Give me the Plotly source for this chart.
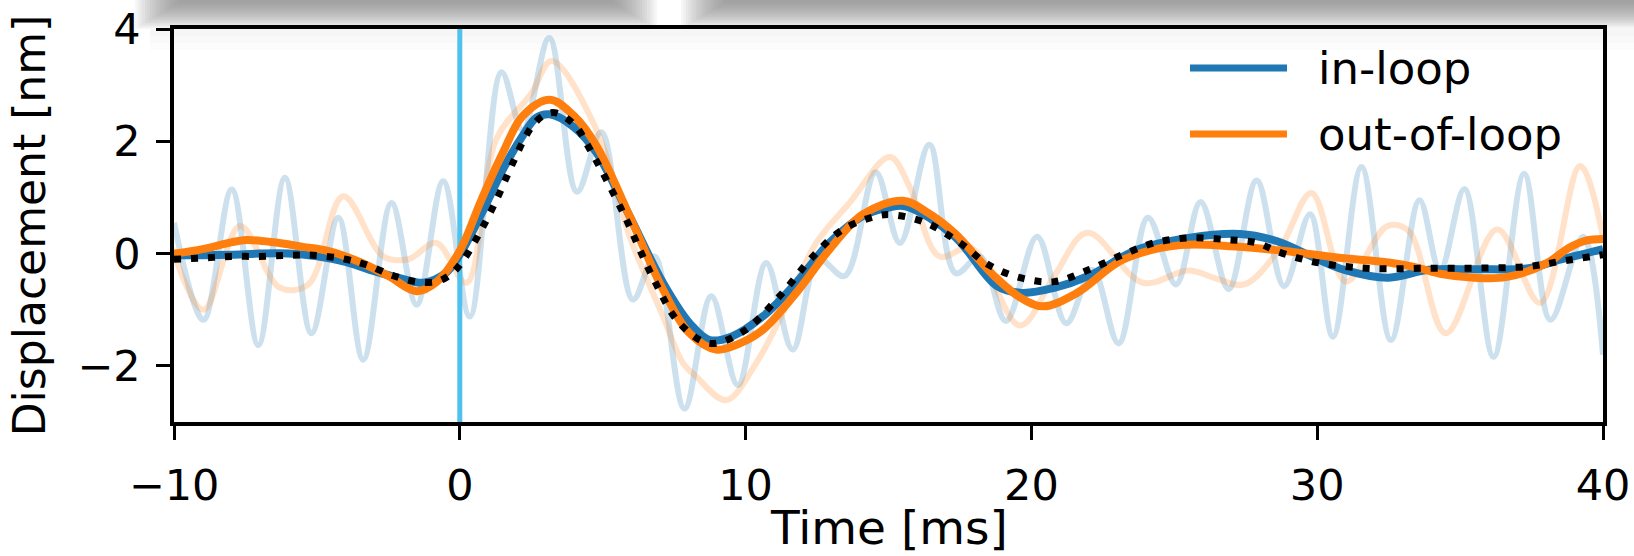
import plotly.graph_objects as go

# ---------------- data ----------------
# faint raw in-loop signal (peaks / troughs)
raw_in_t = [-10, -8.97, -7.98, -7.05, -6.12, -5.19, -4.25, -3.38, -2.39, -1.51, -0.58, 0.35,
            1.46, 2.2, 3.13, 4.1, 4.95, 6.06, 6.81, 7.86, 8.80, 9.73, 10.72, 11.65, 12.55,
            13.46, 14.55, 15.4, 16.43, 17.35, 18.2, 19.11, 20.2, 21.22, 22.14, 23.05, 24.08,
            25.06, 25.92, 26.9, 27.88, 28.84, 29.75, 30.55, 31.55, 32.58, 33.58, 34.3, 35.15,
            36.17, 37.24, 38.16, 39.3, 40]
raw_in_y = [0.55, -1.18, 1.14, -1.63, 1.35, -1.42, 0.64, -1.89, 0.90, -0.91, 1.29, -1.12,
            3.23, 2.2, 3.84, 1.1, 2.16, -0.82, -0.05, -2.76, -0.76, -2.34, -0.17, -1.71, -0.1,
            -0.4, 1.45, 0.19, 1.94, -0.35, -0.05, -1.2, 0.3, -1.24, -0.29, -1.6, 0.64,
            -0.55, 0.92, -0.63, 1.3, -0.58, 0.7, -1.48, 1.54, -1.54, 0.95, -0.3, 1.15,
            -1.84, 1.42, -1.18, 0.3, -1.8]

# faint raw out-of-loop signal
raw_out_t = [-10, -8.97, -7.69, -6.29, -5.3, -4.08, -2.68, -1.8, -0.82, 0.23, 1.28, 2.5, 3.21,
             4.78, 5.94, 7.11, 7.81, 8.27, 9.32, 10.37, 11.3, 12.47, 13.63, 15.05, 15.73, 16.78,
             17.9, 19.6, 20.8, 21.96, 23.9, 25.5, 26.5, 27.45, 28.7, 29.8, 31.0, 32.45, 33.2,
             34.5, 36.3, 37.8, 39.2, 40]
raw_out_y = [0.0, -1.0, 0.49, -0.61, -0.55, 1.02, -0.05, -0.1, 0.19, -0.52, 2.04, 2.85, 3.43,
             2.21, 0.31, -1.12, -1.95, -2.19, -2.61, -1.95, -1.06, 0.19, 0.90, 1.72, 1.2, -0.05,
             0.1, -1.28, -0.4, 0.37, -0.52, -0.3, -0.45, -0.55, 0.1, 1.08, -0.5, 0.49, 0.4,
             -1.42, 0.43, -0.88, 1.56, 0.3]

# smoothed in-loop
in_t = [-10, -9, -8, -7, -6, -5, -4, -3.15, -2, -1.28, -0.5, 0, 0.75, 1.51, 2.2, 2.68, 3.15,
        4.0, 4.78, 5.94, 7.11, 8.04, 8.74, 9.5, 10.6, 11.77, 12.93, 14.1, 15.0, 15.6, 17.3,
        18.8, 19.66, 20.8, 22.0, 23.7, 25.5, 27.3, 28.6, 29.8, 30.95, 32.5, 33.9, 35.6, 37.4,
        38.5, 40]
in_y = [-0.03, -0.03, -0.02, 0.0, 0.0, -0.05, -0.15, -0.29, -0.45, -0.52, -0.35, -0.02, 0.7,
        1.5, 2.1, 2.42, 2.48, 2.25, 1.80, 0.67, -0.52, -1.24, -1.54, -1.48, -1.12, -0.52, 0.19,
        0.67, 0.82, 0.84, 0.31, -0.58, -0.70, -0.61, -0.40, 0.07, 0.28, 0.35, 0.22, -0.05,
        -0.29, -0.43, -0.29, -0.28, -0.26, -0.11, 0.08]

# smoothed out-of-loop
out_t = [-10, -9, -8, -7.46, -6.5, -5.5, -4.55, -3.5, -2.5, -1.51, -0.8, 0, 0.75, 1.51, 2.2,
         3.15, 4.0, 4.78, 5.94, 7.11, 8.04, 8.97, 9.8, 10.6, 11.77, 12.93, 14.1, 15.5, 16.4,
         17.3, 18.7, 19.6, 20.4, 21.6, 23.2, 25.2, 27.0, 28.8, 30.7, 32.5, 33.5, 34.3, 35.5,
         36.6, 38.0, 38.8, 39.4, 40]
out_y = [0.0, 0.08, 0.2, 0.24, 0.2, 0.12, 0.04, -0.15, -0.4, -0.67, -0.5, 0.05, 0.95, 1.8,
         2.45, 2.74, 2.45, 1.92, 0.67, -0.64, -1.42, -1.71, -1.6, -1.36, -0.70, 0.07, 0.70,
         0.94, 0.72, 0.37, -0.40, -0.78, -0.94, -0.70, -0.11, 0.15, 0.13, 0.05, -0.07, -0.16,
         -0.25, -0.36, -0.43, -0.42, -0.18, 0.1, 0.23, 0.26]

# model (black dotted)
model_t = [-10, -9, -8, -7, -6, -5.13, -4, -3.27, -2.3, -1.51, -0.81, -0.29, 0.12, 0.76, 1.34,
           1.86, 2.45, 2.9, 3.32, 4.0, 4.55, 5.71, 6.76, 7.69, 8.74, 9.91, 11.19, 12.36, 13.4,
           14.6, 15.15, 16.3, 17.5, 18.5, 19.6, 20.8, 22.0, 23.2, 24.3, 25.5, 26.8, 27.9, 28.6,
           29.8, 31.0, 32.1, 33.9, 35.6, 37.4, 38.5, 40]
model_y = [-0.1, -0.08, -0.05, -0.05, -0.03, -0.03, -0.1, -0.2, -0.4, -0.5, -0.5, -0.36, -0.12,
           0.43, 1.02, 1.62, 2.21, 2.45, 2.51, 2.3, 1.86, 0.73, -0.43, -1.24, -1.6, -1.39,
           -0.76, -0.05, 0.43, 0.67, 0.69, 0.55, 0.19, -0.2, -0.43, -0.5, -0.29, -0.02, 0.19,
           0.28, 0.25, 0.19, 0.04, -0.14, -0.23, -0.27, -0.26, -0.26, -0.23, -0.14, -0.02]

trigger_t = 0
x_ticks = [-10, 0, 10, 20, 30, 40]
x_tick_text = ["\u221210", "0", "10", "20", "30", "40"]
y_ticks = [-2, 0, 2, 4]
y_tick_text = ["\u22122", "0", "2", "4"]
legend_names = ["in-loop", "out-of-loop"]
x_title = "Time [ms]"
y_title = "Displacement [nm]"

BLUE = "#1f77b4"
ORANGE = "#ff7f0e"
FONT = "DejaVu Sans"

W, H = 1634, 556
L, R, T, B = 174, 31, 29, 134
PW, PH = W - L - R, H - T - B


def px(xp):
    return (xp - L) / PW


def py(yp):
    return (H - B - yp) / PH


fig = go.Figure()
fig.add_trace(go.Scatter(x=raw_in_t, y=raw_in_y, mode="lines", line=dict(color=BLUE, width=6, shape="spline", smoothing=1.0),
                         opacity=0.22, showlegend=False, hoverinfo="skip"))
fig.add_trace(go.Scatter(x=raw_out_t, y=raw_out_y, mode="lines", line=dict(color=ORANGE, width=6, shape="spline", smoothing=1.0),
                         opacity=0.22, showlegend=False, hoverinfo="skip"))
fig.add_trace(go.Scatter(x=[trigger_t, trigger_t], y=[-3, 4], mode="lines", line=dict(color="#4fc1ec", width=5),
                         showlegend=False, hoverinfo="skip"))
fig.add_trace(go.Scatter(x=in_t, y=in_y, mode="lines", name=legend_names[0],
                         line=dict(color=BLUE, width=8, shape="spline", smoothing=1.0), showlegend=False))
fig.add_trace(go.Scatter(x=out_t, y=out_y, mode="lines", name=legend_names[1],
                         line=dict(color=ORANGE, width=8, shape="spline", smoothing=1.0), showlegend=False))
fig.add_trace(go.Scatter(x=model_t, y=model_y, mode="lines",
                         line=dict(color="black", width=7, dash="7px,10px", shape="spline", smoothing=1.0),
                         showlegend=False, hoverinfo="skip"))

shapes = []
# grey blurred shadow band at the top of the picture (many stacked translucent layers)
segs = [(150, 642), (696, W + 40)]
nl = 18
for k in range(nl):
    for (a, b) in segs:
        shapes.append(dict(type="rect", xref="paper", yref="paper",
                           x0=px(a + (k - 6) * 2.5), x1=px(b - (k - 6) * 2.5),
                           y0=py(29 - 1.5 * k), y1=py(-5),
                           fillcolor="#7a7a7a", opacity=0.062, line=dict(width=0), layer="below"))
# faint shadow continuing just under the top spine
for k in range(3):
    shapes.append(dict(type="rect", xref="paper", yref="paper", x0=px(150), x1=px(W + 40),
                       y0=py(29 + 7 * (k + 1)), y1=py(29), fillcolor="#7a7a7a", opacity=0.02,
                       line=dict(width=0), layer="below"))

# legend sample lines
leg_y = [68, 134]
leg_cols = [BLUE, ORANGE]
annotations = []
for yy, c, name in zip(leg_y, leg_cols, legend_names):
    shapes.append(dict(type="line", xref="paper", yref="paper", x0=px(1190), x1=px(1287), y0=py(yy), y1=py(yy),
                       line=dict(color=c, width=7)))
    annotations.append(dict(xref="paper", yref="paper", x=px(1316), y=py(yy), text=name, showarrow=False,
                            xanchor="left", yanchor="middle", font=dict(family=FONT, size=45, color="black")))

# x-axis title (placed as text so its position can be set exactly)
annotations.append(dict(xref="paper", yref="paper", x=0.5, y=py(527), text=x_title, showarrow=False,
                        xanchor="center", yanchor="middle", borderpad=0,
                        font=dict(family=FONT, size=47, color="black")))

axis_common = dict(showgrid=False, zeroline=False, showline=True, mirror=True, linecolor="black", linewidth=3.5,
                   ticks="outside", ticklen=14, tickwidth=3, tickcolor="black", automargin=False,
                   tickfont=dict(family=FONT, size=43, color="black"))

fig.update_layout(
    width=W, height=H,
    margin=dict(l=L, r=R, t=T, b=B, pad=0, autoexpand=False),
    paper_bgcolor="white", plot_bgcolor="white",
    shapes=shapes, annotations=annotations,
    xaxis=dict(range=[-10, 40], tickvals=x_ticks, ticktext=x_tick_text, ticklabelstandoff=9,
               **axis_common),
    yaxis=dict(range=[-3, 4], tickvals=y_ticks, ticktext=y_tick_text, ticklabelstandoff=7,
               title=dict(text=y_title, font=dict(family=FONT, size=44, color="black"), standoff=19),
               **axis_common),
    showlegend=False,
)

fig.write_html("out.html")
